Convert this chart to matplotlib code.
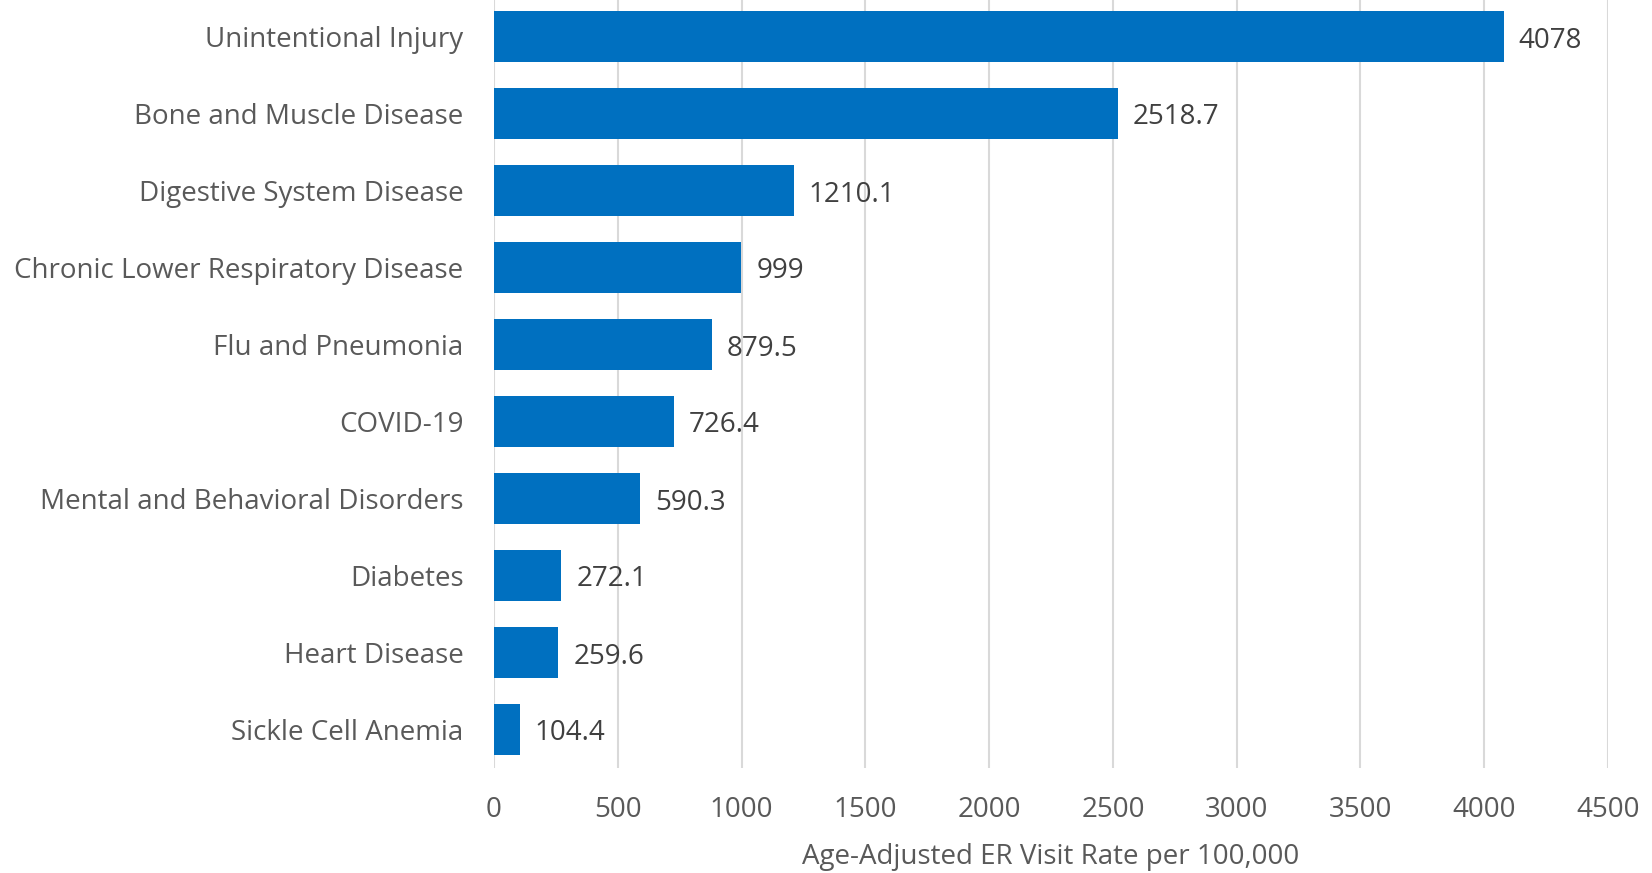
import matplotlib.pyplot as plt
import matplotlib.transforms as mtransforms

# ER visit rates by cause
causes = [
    "Unintentional Injury",
    "Bone and Muscle Disease",
    "Digestive System Disease",
    "Chronic Lower Respiratory Disease",
    "Flu and Pneumonia",
    "COVID-19",
    "Mental and Behavioral Disorders",
    "Diabetes",
    "Heart Disease",
    "Sickle Cell Anemia",
]
rates = [4078, 2518.7, 1210.1, 999, 879.5, 726.4, 590.3, 272.1, 259.6, 104.4]
rate_labels = ["4078", "2518.7", "1210.1", "999", "879.5", "726.4", "590.3", "272.1", "259.6", "104.4"]
x_ticks = [0, 500, 1000, 1500, 2000, 2500, 3000, 3500, 4000, 4500]

BAR_COLOR = "#0070C0"
AXIS_TEXT = "#595959"
LABEL_TEXT = "#404040"
GRID_COLOR = "#D9D9D9"
FS = 20

plt.rcParams["font.family"] = ["Open Sans", "DejaVu Sans"]

fig = plt.figure(figsize=(16.52, 8.73), dpi=100)
ax = fig.add_axes([494 / 1652, 1 - 768 / 873, (1608 - 494) / 1652, 770 / 873])

ypos = list(range(len(causes)))
bars = ax.barh(ypos, rates, height=0.66, color=BAR_COLOR, zorder=3)
ax.set_ylim(len(causes) - 0.5, -0.5)
ax.set_xlim(0, 4500)

# value labels, nudged a few pixels right of (and just below) each bar end
offset = mtransforms.ScaledTranslation(0.15, -0.04, fig.dpi_scale_trans)
for rect, txt in zip(bars, rate_labels):
    ax.text(rect.get_width(), rect.get_y() + rect.get_height() / 2,
            txt, ha="left", va="center", fontsize=FS, color=LABEL_TEXT,
            transform=ax.transData + offset, zorder=4)

ax.set_yticks(ypos)
ax.set_yticklabels(causes, fontsize=FS, color=AXIS_TEXT)
ax.set_xticks(x_ticks)
ax.set_xticklabels([str(v) for v in x_ticks], fontsize=FS, color=AXIS_TEXT)
ax.tick_params(axis="y", length=0, pad=22)
ax.tick_params(axis="x", length=0, pad=20)

ax.xaxis.grid(True, color=GRID_COLOR, linewidth=1.5, zorder=0)
ax.yaxis.grid(False)
for s in ax.spines.values():
    s.set_visible(False)

ax.set_xlabel("Age-Adjusted ER Visit Rate per 100,000", fontsize=FS,
              color=AXIS_TEXT, labelpad=14)

fig.savefig("out.png", dpi=100)
